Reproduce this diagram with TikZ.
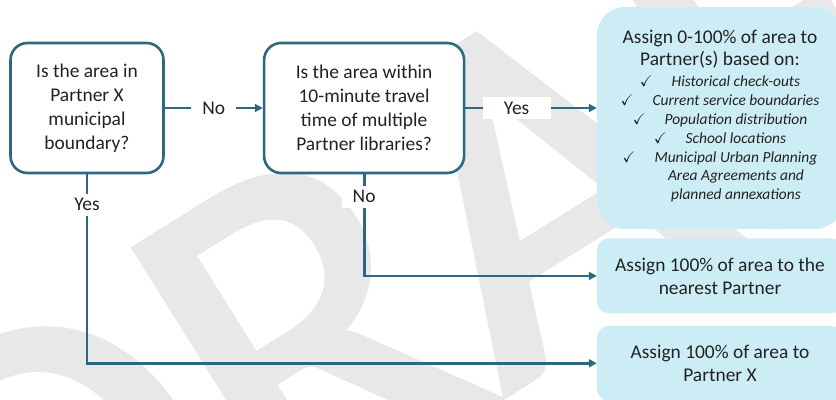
\documentclass[tikz,border=0pt]{standalone}
\usepackage{fontspec}
\setmainfont{Carlito}
\newfontfamily\draftfont[FakeBold=1.5]{Carlito}
\usepackage{amssymb}
\usetikzlibrary{arrows.meta,positioning}
\definecolor{flowteal}{RGB}{44,104,128}
\definecolor{paleblue}{RGB}{204,237,246}
\definecolor{inkgray}{RGB}{34,34,34}
\newcommand{\checkitem}[1]{$\checkmark$\hspace{19bp}\textit{#1}}
\newcommand{\moreitem}[1]{\phantom{$\checkmark$}\hspace{19bp}\textit{#1}}
\tikzset{
  decision/.style={
      rectangle,
      rounded corners=17bp,
      minimum width=153bp,
      minimum height=130bp,
      line width=2.6bp,
      draw=flowteal,
      fill=white,
      align=center,
      text=inkgray,
      font=\fontsize{19.5}{24}\selectfont
  },
  outcome/.style={
      rectangle,
      rounded corners=12bp,
      minimum width=246bp,
      minimum height=75bp,
      fill=paleblue,
      align=center,
      text=inkgray,
      font=\fontsize{19.5}{23}\selectfont
  },
  flowlabel/.style={
      fill=white,
      inner sep=0pt,
      minimum width=45bp,
      minimum height=22bp,
      text=inkgray,
      font=\fontsize{19.5}{24}\selectfont
  },
  widelabel/.style={flowlabel,minimum width=68bp},
  flow/.style={line width=2.8bp,draw=flowteal,-{Triangle[length=8bp,width=8bp]}},
  watermark/.style={
      text=gray!18,
      inner sep=0pt,
      anchor=base west,
      rotate=32,
      font=\draftfont\fontsize{500}{500}\selectfont
  }
}
\begin{document}
\begin{tikzpicture}[x=1bp,y=1bp]
    \useasboundingbox (0,0) rectangle (836,399);
    % watermark behind everything
    \node[watermark] (draft) at (15,-302) {DRAFT};
    % questions
    \node[decision] (inside) at (87,291) {Is the area in\\Partner X\\municipal\\boundary?};
    \node[decision,minimum width=200bp,right=98bp of inside] (travel)
      {Is the area within\\10-minute travel\\time of multiple\\Partner libraries?};
    % outcomes
    \node[outcome,rounded corners=28bp,minimum height=222bp] (share) at (720,281) {%
      \fontsize{15.5}{19}\selectfont
      \begin{tabular}{@{}c@{}}
        {\fontsize{19.5}{24}\selectfont Assign 0-100\% of area to}\\[1.7bp]
        {\fontsize{19.5}{24}\selectfont Partner(s) based on:}\\[2bp]
        \checkitem{Historical check-outs}\\
        \checkitem{Current service boundaries}\\
        \checkitem{Population distribution}\\
        \checkitem{School locations}\\
        \checkitem{Municipal Urban Planning}\\
        \moreitem{Area Agreements and}\\
        \moreitem{planned annexations}
      \end{tabular}};
    \node[outcome,below=9bp of share] (nearest) {Assign 100\% of area to the\\nearest Partner};
    \node[outcome,below=12bp of nearest] (own) {Assign 100\% of area to\\Partner X};
    % connectors
    \draw[flow] (inside) -- node[flowlabel] {No} (travel);
    \draw[flow] (travel.east) -- node[widelabel,pos=0.39] {Yes} (travel.east -| share.west);
    \draw[flow] (travel.south) |- node[flowlabel,pos=0.11] {No} (nearest.west);
    \draw[flow] (inside.south) |- node[widelabel,pos=0.08] {Yes} (own.west);
\end{tikzpicture}
\end{document}
